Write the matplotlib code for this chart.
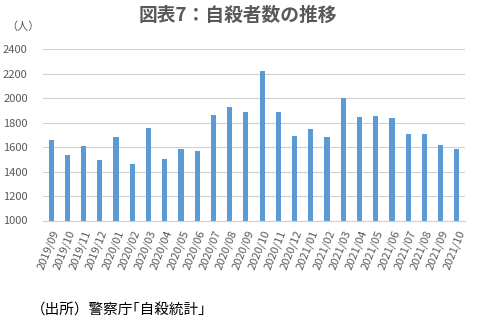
import matplotlib
matplotlib.use("Agg")
import matplotlib.pyplot as plt

plt.rcParams['font.family'] = ['Noto Sans CJK JP', 'DejaVu Sans']

months = ["2019/09", "2019/10", "2019/11", "2019/12", "2020/01", "2020/02",
          "2020/03", "2020/04", "2020/05", "2020/06", "2020/07", "2020/08",
          "2020/09", "2020/10", "2020/11", "2020/12", "2021/01", "2021/02",
          "2021/03", "2021/04", "2021/05", "2021/06", "2021/07", "2021/08",
          "2021/09", "2021/10"]
suicides = [1658, 1535, 1609, 1494, 1682, 1461, 1756, 1502, 1584, 1568,
            1862, 1928, 1888, 2223, 1888, 1690, 1748, 1682, 2002, 1846,
            1854, 1838, 1707, 1707, 1617, 1584]
yticks = [1000, 1200, 1400, 1600, 1800, 2000, 2200, 2400]

text_color = "#595959"

fig = plt.figure(figsize=(4.83, 3.32), dpi=100)
ax = fig.add_axes([43 / 483, 1 - 220.5 / 332, (465 - 43) / 483, (220.5 - 49.3) / 332])

x = range(len(months))
ax.bar(x, suicides, width=0.32, color="#5B9BD5", zorder=3)

ax.set_ylim(1000, 2400)
ax.set_xlim(-0.5, len(months) - 0.5)
ax.set_yticks(yticks)
ax.set_yticklabels([str(v) for v in yticks], fontsize=8, color=text_color)
ax.set_xticks(list(x))
ax.set_xticklabels(months, rotation=68, ha="right", rotation_mode="anchor",
                   fontsize=8, color=text_color)
ax.tick_params(axis="x", length=0, pad=6)
ax.tick_params(axis="y", length=0, pad=11)

ax.grid(axis="y", color="#D0D0D0", linewidth=0.8, zorder=0)
for side in ("top", "right", "left"):
    ax.spines[side].set_visible(False)
ax.spines["bottom"].set_color("#D0D0D0")
ax.spines["bottom"].set_linewidth(0.8)

fig.text(238 / 483, 1 - 15 / 332, "図表7：自殺者数の推移", ha="center", va="center",
         fontsize=13.5, fontweight="bold", color=text_color)
fig.text(23 / 483, 1 - 27 / 332, "（人）", ha="center", va="center",
         fontsize=8, color=text_color)
fig.text(31 / 483, 1 - 311 / 332, "（出所）警察庁｢自殺統計｣", ha="left", va="center",
         fontsize=10.5, color="#000000")

fig.savefig("out.png", dpi=100)
